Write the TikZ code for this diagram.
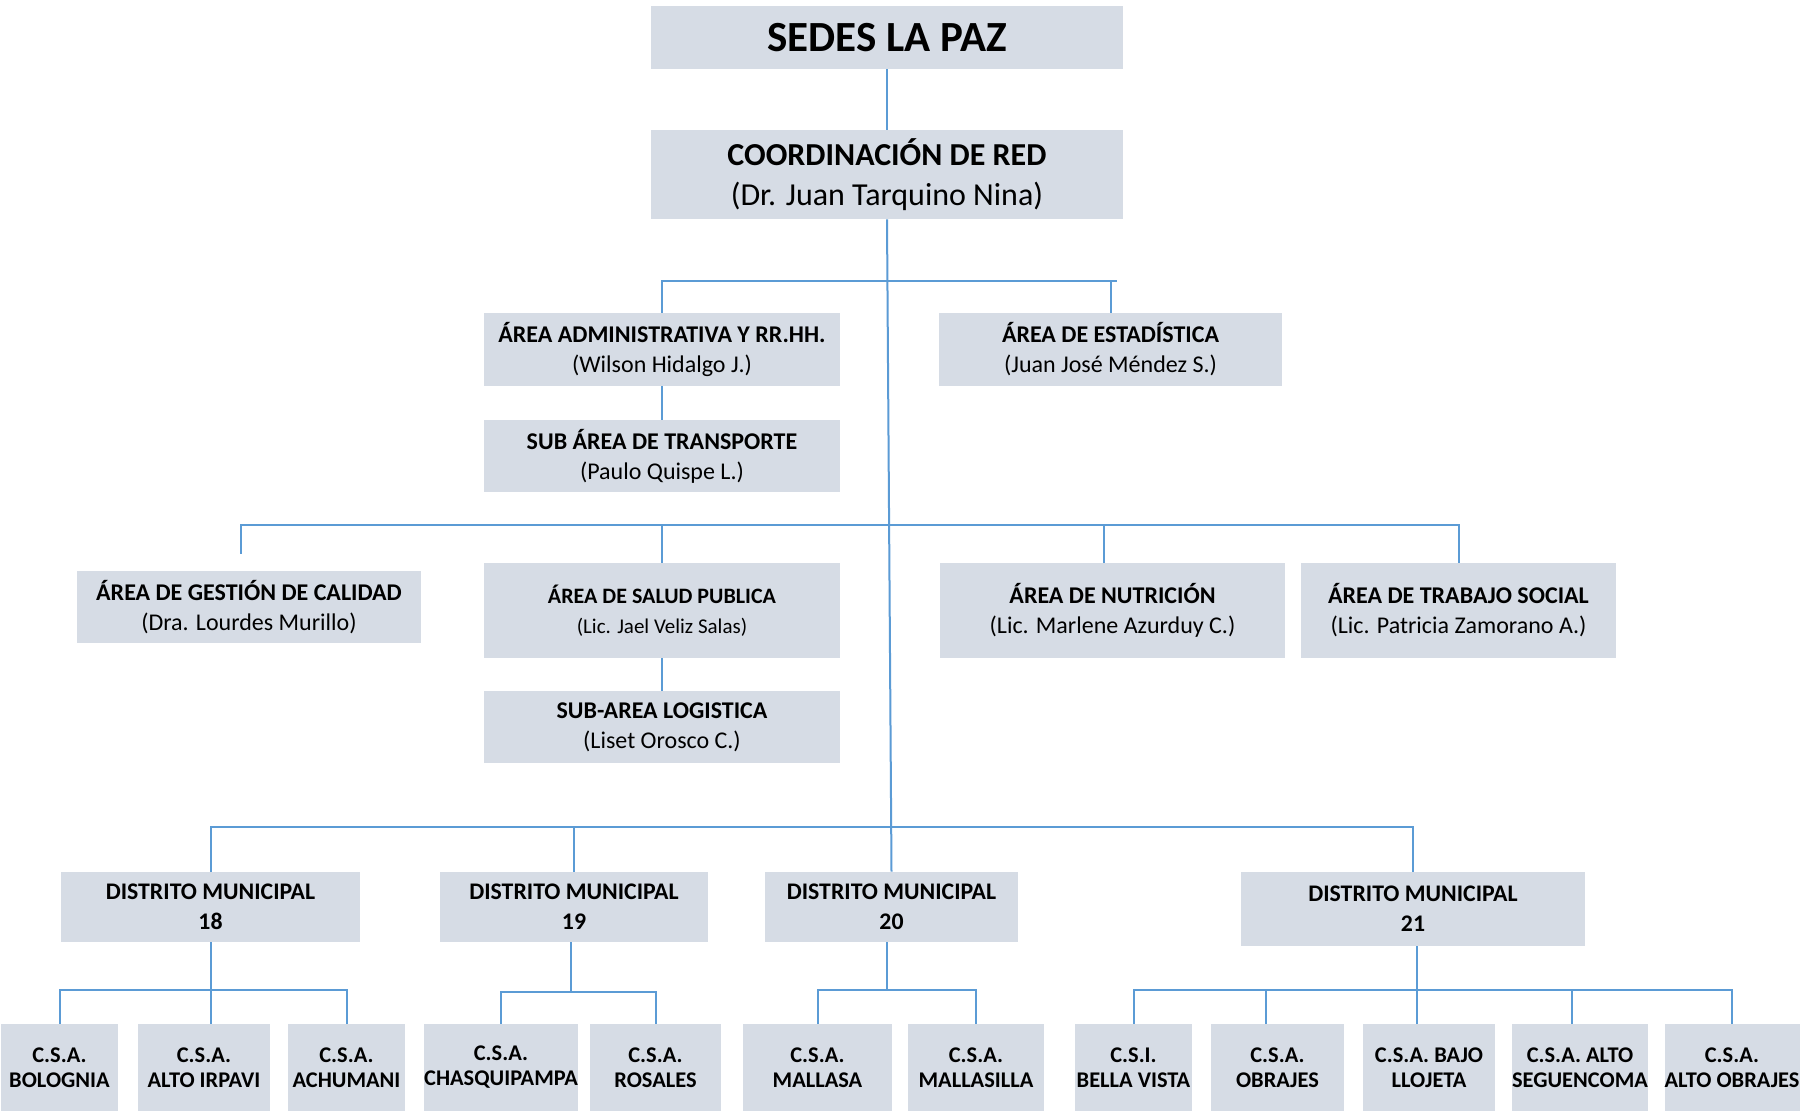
\documentclass[tikz,border=0pt]{standalone}
\usepackage{fontspec}
\setmainfont{Carlito}
\definecolor{boxfill}{RGB}{214,220,229}
\definecolor{linecol}{RGB}{91,155,213}
\tikzset{
  boxst/.style={fill=boxfill, inner sep=0pt, align=center},
  conn/.style={draw=linecol, line width=1pt},
  fsedes/.style={font=\fontsize{21.5}{24}\selectfont\bfseries},
  fcoord/.style={font=\fontsize{16}{20}\selectfont},
  farea/.style={font=\fontsize{12}{15}\selectfont},
  fdist/.style={font=\fontsize{11.9}{15}\selectfont\bfseries},
  fcsa/.style={font=\fontsize{11.2}{12.5}\selectfont\bfseries},
}
\newcommand\orgbox[7]{%
  \node[boxst, #6, minimum width={(#4-#2)*0.5pt}, minimum height={(#5-#3)*0.5pt}]
    (#1) at ({(#2+#4)/2},{(#3+#5)/2}) {#7};}
\begin{document}
\begin{tikzpicture}[x=0.5pt,y=-0.5pt]
\fill[white] (0,0) rectangle (1800,1111);
\useasboundingbox (0,0) rectangle (1800,1111);
% top
\orgbox{sedes}{651}{6}{1123}{69}{fsedes}{SEDES LA PAZ}
\orgbox{coord}{651}{130}{1123}{219}{fcoord}{\textbf{COORDINACIÓN DE RED}\\(Dr. Juan Tarquino Nina)}
% level 2
\orgbox{admin}{484}{313}{840}{386}{farea}{\textbf{ÁREA ADMINISTRATIVA Y RR.HH.}\\(Wilson Hidalgo J.)}
\orgbox{estad}{939}{313}{1282}{386}{farea}{\textbf{ÁREA DE ESTADÍSTICA}\\(Juan José Méndez S.)}
\orgbox{transp}{484}{420}{840}{492}{farea}{\textbf{SUB ÁREA DE TRANSPORTE}\\(Paulo Quispe L.)}
% level 3
\orgbox{gestion}{77}{571}{421}{643}{farea}{\textbf{ÁREA DE GESTIÓN DE CALIDAD}\\(Dra. Lourdes Murillo)}
\orgbox{salud}{484}{563}{840}{658}{farea}{{\fontsize{11}{15}\selectfont\textbf{ÁREA DE SALUD PUBLICA}}\\{\fontsize{10.5}{15}\selectfont(Lic. Jael Veliz Salas)}}
\orgbox{logist}{484}{691}{840}{763}{farea}{\textbf{SUB-AREA LOGISTICA}\\(Liset Orosco C.)}
\orgbox{nutri}{940}{563}{1285}{658}{farea}{\textbf{ÁREA DE NUTRICIÓN}\\(Lic. Marlene Azurduy C.)}
\orgbox{trabajo}{1301}{563}{1616}{658}{farea}{\textbf{ÁREA DE TRABAJO SOCIAL}\\(Lic. Patricia Zamorano A.)}
% districts
\orgbox{dm18}{61}{872}{360}{942}{fdist}{DISTRITO MUNICIPAL\\18}
\orgbox{dm19}{440}{872}{708}{942}{fdist}{DISTRITO MUNICIPAL\\19}
\orgbox{dm20}{765}{872}{1018}{942}{fdist}{DISTRITO MUNICIPAL\\20}
\orgbox{dm21}{1241}{872}{1585}{946}{fdist}{DISTRITO MUNICIPAL\\21}
% centres
\orgbox{bol}{1}{1024}{118}{1111}{fcsa}{C.S.A.\\BOLOGNIA}
\orgbox{irp}{138}{1024}{270}{1111}{fcsa}{C.S.A.\\ALTO IRPAVI}
\orgbox{ach}{288}{1024}{405}{1111}{fcsa}{C.S.A.\\ACHUMANI}
\orgbox{chas}{425}{1024}{577}{1111}{fcsa}{C.S.A.\\CHASQUIPAMPA}
\orgbox{ros}{590}{1024}{721}{1111}{fcsa}{C.S.A.\\ROSALES}
\orgbox{mal}{743}{1024}{892}{1111}{fcsa}{C.S.A.\\MALLASA}
\orgbox{mals}{908}{1024}{1044}{1111}{fcsa}{C.S.A.\\MALLASILLA}
\orgbox{bella}{1075}{1024}{1192}{1111}{fcsa}{C.S.I.\\BELLA VISTA}
\orgbox{obr}{1211}{1024}{1344}{1111}{fcsa}{C.S.A.\\OBRAJES}
\orgbox{llo}{1363}{1024}{1495}{1111}{fcsa}{C.S.A. BAJO\\LLOJETA}
\orgbox{seg}{1514}{1024}{1646}{1111}{fcsa}{C.S.A. ALTO\\SEGUENCOMA}
\orgbox{aobr}{1666}{1024}{1798}{1111}{fcsa}{C.S.A.\\ALTO OBRAJES}
% bus coordinates
\coordinate (bus1) at (887,281);
\coordinate (bus1e) at (1117,281);
\coordinate (bus2) at (889,525);
\coordinate (bus2l) at (241,525);
\coordinate (gtop) at (241,554);
\coordinate (bus3) at (890,827);
\coordinate (bus18) at (210,990);
\coordinate (bus19) at (571,992);
\coordinate (bus20) at (887,990);
\coordinate (bus21) at (1417,990);
% connectors
\draw[conn] (sedes) -- (coord);
\draw[conn] (coord.south) -- (dm20.north);
\draw[conn] (admin.north) |- (bus1) -| (estad.north);
\draw[conn] (estad.north |- bus1) -- (bus1e);
\draw[conn] (admin) -- (transp);
\draw[conn] (gtop) -- (bus2l) -- (bus2) -| (trabajo.north);
\draw[conn] (salud.north) -- (salud.north |- bus2);
\draw[conn] ([xshift=-4.5pt]nutri.north) -- ([xshift=-4.5pt]nutri.north |- bus2);
\draw[conn] (salud) -- (logist);
\draw[conn] (dm18.north) |- (bus3) -| (dm21.north);
\draw[conn] (dm19.north) -- (dm19.north |- bus3);
% district 18
\draw[conn] (dm18.south) -- (dm18.south |- irp.north);
\draw[conn] (bol.north) |- (bus18) -| (ach.north);
% district 19
\draw[conn] (dm19.south -| bus19) -- (bus19);
\draw[conn] (chas.north) |- (bus19) -| (ros.north);
% district 20
\draw[conn] (dm20.south -| bus20) -- (bus20);
\draw[conn] (mal.north) |- (bus20) -| (mals.north);
% district 21
\draw[conn] (dm21.south -| bus21) -- (bus21 |- llo.north);
\draw[conn] (bella.north) |- (bus21) -| (aobr.north);
\draw[conn] ([xshift=-6pt]obr.north) -- ([xshift=-6pt]obr.north |- bus21);
\draw[conn] ([xshift=-4pt]seg.north) -- ([xshift=-4pt]seg.north |- bus21);
\end{tikzpicture}
\end{document}
